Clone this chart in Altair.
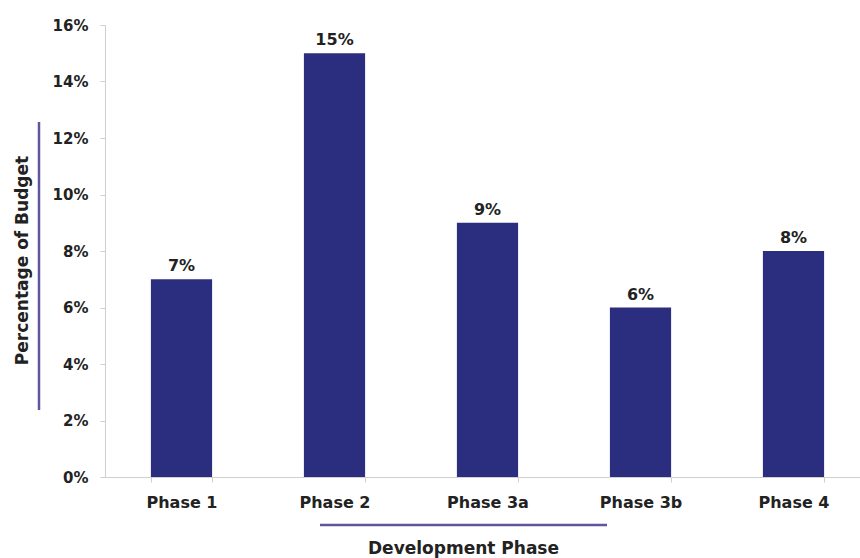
import altair as alt
import pandas as pd

phases = ["Phase 1", "Phase 2", "Phase 3a", "Phase 3b", "Phase 4"]
shares = [0.07, 0.15, 0.09, 0.06, 0.08]
y_ticks = [0, 0.02, 0.04, 0.06, 0.08, 0.10, 0.12, 0.14, 0.16]

df = pd.DataFrame({"phase": phases, "share": shares})

FONT = "DejaVu Sans"
BAR = "#2B2E7E"
ACCENT = "#5F56A0"

x = alt.X(
    "phase:N",
    sort=phases,
    scale=alt.Scale(paddingInner=0.6, paddingOuter=0.3, range=[0, 765]),
    axis=alt.Axis(
        title="Development Phase",
        titleX=358, titleY=71, titleBaseline="middle", titleAnchor="middle",
        titleAlign="center",
        labelAngle=0, labelPadding=12, tickSize=5, tickBand="extent",
        labelFontSize=16,
        domainColor="#cfcfcf", tickColor="#cfcfcf",
    ),
)
y = alt.Y(
    "share:Q",
    scale=alt.Scale(domain=[0, 0.16], nice=False),
    axis=alt.Axis(
        title="Percentage of Budget",
        values=y_ticks, format=".0%", grid=False,
        titleX=-83, titleY=235, titleAlign="center", titleBaseline="middle",
        labelPadding=12, tickSize=5,
        domainColor="#cfcfcf", tickColor="#cfcfcf",
    ),
)

bars = alt.Chart(df).mark_bar(color=BAR).encode(x=x, y=y)
labels = alt.Chart(df).mark_text(
    dy=-13, font=FONT, fontWeight="bold", fontSize=16, color="#222222"
).encode(x=x, y=y, text=alt.Text("share:Q", format=".0%"))

one = pd.DataFrame({"k": [0]})
vrule = alt.Chart(one).mark_rule(color=ACCENT, strokeWidth=2.5).encode(
    x=alt.value(-66), y=alt.value(97), y2=alt.value(385)
)
hrule = alt.Chart(one).mark_rule(color=ACCENT, strokeWidth=2.5).encode(
    x=alt.value(215), x2=alt.value(502), y=alt.value(500)
)

chart = (
    alt.layer(bars, labels, vrule, hrule)
    .properties(
        width=755, height=452,
        autosize=alt.AutoSizeParams(type="none"),
        padding={"left": 105, "top": 25, "right": 0, "bottom": 81},
        background="white",
    )
    .configure_view(stroke=None)
    .configure_axis(
        labelFont=FONT, labelFontWeight="bold", labelFontSize=15, labelColor="#222222",
        titleFont=FONT, titleFontWeight="bold", titleFontSize=17, titleColor="#222222",
    )
)

chart.save("out.html", embed_options={"renderer": "svg", "actions": False})
